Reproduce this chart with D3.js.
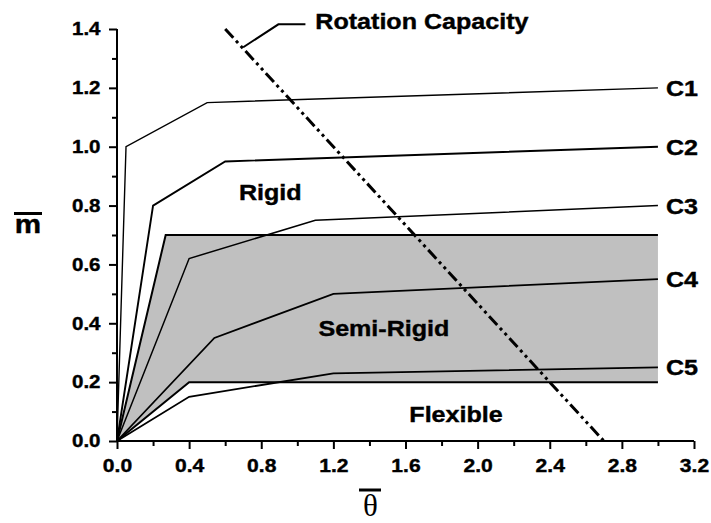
<!DOCTYPE html>
<html>
<head>
<meta charset="utf-8">
<script src="https://cdn.jsdelivr.net/npm/d3@7"></script>
<style>
  body { margin: 0; background: #fff; }
  svg text { font-family: Arial, "Liberation Sans", sans-serif; font-weight: bold; fill: #000; stroke: #000; stroke-width: 0.4px; }
</style>
</head>
<body>
<svg id="chart"></svg>
<script>
// moment-rotation curves, one array per curve
const curveNames = ["C1", "C2", "C3", "C4", "C5"];
const c1Theta = [0, 0.05, 0.5, 3.0];
const c1Moment = [0, 1.0, 1.15, 1.2];
const c2Theta = [0, 0.2, 0.6, 3.0];
const c2Moment = [0, 0.8, 0.95, 1.0];
const c3Theta = [0, 0.4, 1.1, 3.0];
const c3Moment = [0, 0.62, 0.75, 0.8];
const c4Theta = [0, 0.54, 1.2, 3.0];
const c4Moment = [0, 0.35, 0.5, 0.55];
const c5Theta = [0, 0.4, 1.2, 3.0];
const c5Moment = [0, 0.15, 0.23, 0.25];

// semi-rigid band limits
const upperTheta = [0, 0.27, 3.0];
const upperMoment = [0, 0.7, 0.7];
const lowerTheta = [0, 0.4, 3.0];
const lowerMoment = [0, 0.2, 0.2];

// rotation capacity line
const capTheta = [0.6, 2.7];
const capMoment = [1.4, 0];

const xTicks = [0, 0.4, 0.8, 1.2, 1.6, 2.0, 2.4, 2.8, 3.2];
const yTicks = [0, 0.2, 0.4, 0.6, 0.8, 1.0, 1.2, 1.4];

const width = 711, height = 523;
const margin = { top: 29, right: 17, bottom: 82, left: 117 };
const stretch = 1.14; // text in the original is a bit wider than tall

const svg = d3.select("#chart").attr("width", width).attr("height", height);

const x = d3.scaleLinear().domain([0, 3.2]).range([margin.left, width - margin.right]);
const y = d3.scaleLinear().domain([0, 1.4]).range([height - margin.bottom, margin.top]);

const curves = [
  d3.zip(c1Theta, c1Moment),
  d3.zip(c2Theta, c2Moment),
  d3.zip(c3Theta, c3Moment),
  d3.zip(c4Theta, c4Moment),
  d3.zip(c5Theta, c5Moment)
];
const upper = d3.zip(upperTheta, upperMoment);
const lower = d3.zip(lowerTheta, lowerMoment);

const line = d3.line().x(d => x(d[0])).y(d => y(d[1]));

// grey band
svg.append("path")
  .attr("d", line(upper.concat(lower.slice().reverse())))
  .attr("fill", "#c0c0c0")
  .attr("stroke", "none");

[upper, lower].forEach(pts => {
  svg.append("path").attr("d", line(pts))
    .attr("fill", "none").attr("stroke", "#000").attr("stroke-width", 2);
});

// curves
const widths = [1.4, 1.9, 1.5, 1.8, 1.8];
curves.forEach((pts, i) => {
  svg.append("path").attr("d", line(pts))
    .attr("fill", "none").attr("stroke", "#000")
    .attr("stroke-width", widths[i]).attr("stroke-linejoin", "miter");
});

// rotation capacity
svg.append("path")
  .attr("d", line(d3.zip(capTheta, capMoment)))
  .attr("fill", "none").attr("stroke", "#000")
  .attr("stroke-width", 3)
  .attr("stroke-dasharray", "12,4,3,4,3,4");

// axes
const yAxis = svg.append("g").attr("transform", `translate(${margin.left},0)`)
  .call(d3.axisLeft(y).tickValues(yTicks).tickSize(8).tickFormat(d3.format(".1f")));
svg.append("g").attr("transform", `translate(${margin.left},0)`)
  .call(d3.axisLeft(y).tickValues(d3.range(0.1, 1.4, 0.2)).tickSize(5).tickFormat(""))
  .select(".domain").remove();

const xAxis = svg.append("g").attr("transform", `translate(0,${y(0)})`)
  .call(d3.axisBottom(x).tickValues(xTicks).tickSize(8).tickFormat(d3.format(".1f")));
svg.append("g").attr("transform", `translate(0,${y(0)})`)
  .call(d3.axisBottom(x).tickValues(d3.range(0.2, 3.2, 0.4)).tickSize(5).tickFormat(""))
  .select(".domain").remove();

svg.selectAll(".domain").attr("stroke-width", 2);
svg.selectAll(".tick line").attr("stroke-width", 2);
// plain axis lines without the end caps
yAxis.select(".domain").attr("d", `M0,${y(0)}V${y(1.4)}`);
xAxis.select(".domain").attr("d", `M${x(0)},0H${x(3.2)}`);

yAxis.selectAll(".tick text")
  .attr("x", -16.5 / stretch)
  .attr("transform", `scale(${stretch},1)`)
  .style("font-size", "18px");
xAxis.selectAll(".tick text")
  .attr("y", 18)
  .attr("transform", `scale(${stretch},1)`)
  .style("font-size", "18.5px");

function label(px, py, txt, size, anchor) {
  return svg.append("g").attr("transform", `translate(${px},${py}) scale(${stretch},1)`)
    .append("text").attr("text-anchor", anchor || "start")
    .style("font-size", size + "px").text(txt);
}

// curve names at the right end
curves.forEach((pts, i) => {
  const last = pts[pts.length - 1];
  label(x(last[0]) + 8, y(last[1]) + 8, curveNames[i], 22);
});

label(x(0.85), y(0.82), "Rigid", 22, "middle");
label(x(1.48), y(0.357), "Semi-Rigid", 22, "middle");
label(x(1.88), y(0.066), "Flexible", 22, "middle");

// rotation capacity callout
const leaderTheta = [0.70, 0.895, 1.045];
const leaderMoment = [1.338, 1.416, 1.416];
svg.append("path").attr("d", line(d3.zip(leaderTheta, leaderMoment)))
  .attr("fill", "none").attr("stroke", "#000").attr("stroke-width", 2);
label(x(1.1), y(1.4), "Rotation Capacity", 22);

// axis titles with overbars
svg.append("g").attr("transform", `translate(28,233) scale(${stretch},1)`)
  .append("text").attr("text-anchor", "middle").style("font-size", "26px").text("m");
svg.append("line").attr("x1", 14).attr("x2", 42).attr("y1", 213.5).attr("y2", 213.5)
  .attr("stroke", "#000").attr("stroke-width", 3);

svg.append("text").attr("x", 370.5).attr("y", 516).attr("text-anchor", "middle")
  .style("font-family", "'Times New Roman', 'Liberation Serif', serif")
  .style("font-weight", "normal").style("stroke-width", "0px")
  .style("font-size", "31px").text("θ");
svg.append("line").attr("x1", 359).attr("x2", 381).attr("y1", 490).attr("y2", 490)
  .attr("stroke", "#000").attr("stroke-width", 3);
</script>
</body>
</html>
